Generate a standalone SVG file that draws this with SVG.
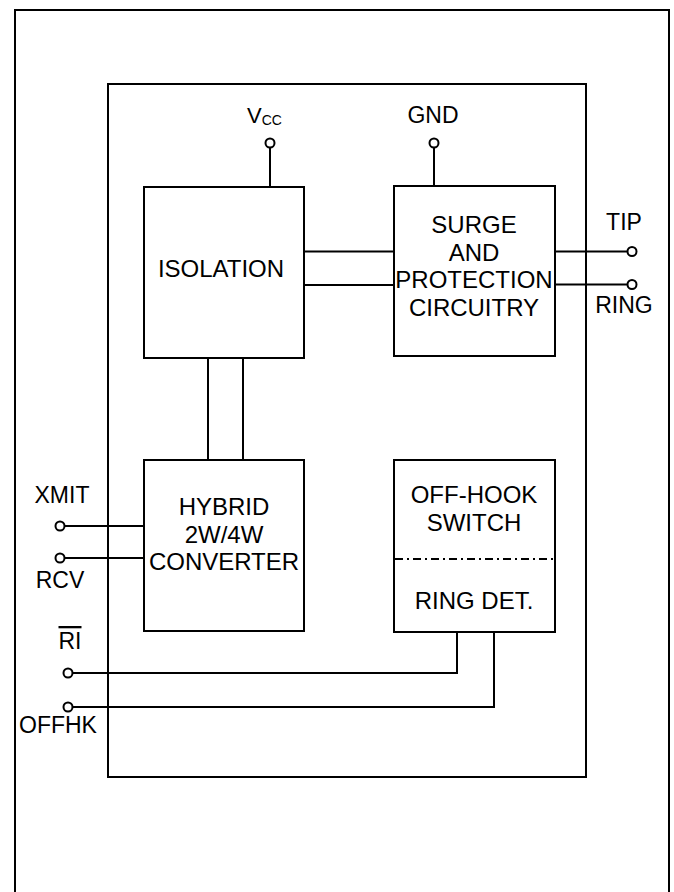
<svg xmlns="http://www.w3.org/2000/svg" width="674" height="892" viewBox="0 0 674 892">
<style>
.box{fill:#fff;stroke:#000;stroke-width:2}
.ln{fill:none;stroke:#000;stroke-width:2}
.pin{fill:#fff;stroke:#000;stroke-width:2}
text{font-family:"Liberation Sans",Arial,sans-serif;fill:#000}
.bt{font-size:24px;text-anchor:middle}
.lb{font-size:23px;text-anchor:middle}
</style>
<rect width="674" height="892" fill="#fff"/>
<g id="frame">
<path class="ln" d="M15 900 V10 H669 V900"/>
<rect class="box" x="108" y="84" width="478" height="693"/>
</g>
<g id="connectors">
<path class="ln" d="M270 147.5 V187"/>
<path class="ln" d="M434 147.5 V186"/>
<path class="ln" d="M304 251.5 H394 M304 285 H394"/>
<path class="ln" d="M555 251.5 H627.5 M555 284.5 H627.5"/>
<path class="ln" d="M208 358 V460 M243 358 V460"/>
<path class="ln" d="M64.5 526 H144 M64.5 558 H144"/>
<path class="ln" d="M72.5 673 H457 V632 M72.5 707 H494 V632"/>
</g>
<g id="isolation">
<rect class="box" x="144" y="187" width="160" height="171"/>
<text class="bt" x="221" y="277">ISOLATION</text>
</g>
<g id="surge">
<rect class="box" x="394" y="186" width="161" height="170"/>
<text class="bt" x="474" y="233">SURGE</text>
<text class="bt" x="474" y="261">AND</text>
<text class="bt" x="474" y="288">PROTECTION</text>
<text class="bt" x="474" y="316">CIRCUITRY</text>
</g>
<g id="hybrid">
<rect class="box" x="144" y="460" width="160" height="171"/>
<text class="bt" x="224" y="515">HYBRID</text>
<text class="bt" x="224" y="543">2W/4W</text>
<text class="bt" x="224" y="570">CONVERTER</text>
</g>
<g id="offhook">
<rect class="box" x="394" y="460" width="161" height="172"/>
<path class="ln" d="M395 559 H554" stroke-dasharray="8 4 2 4"/>
<text class="bt" x="474" y="503">OFF-HOOK</text>
<text class="bt" x="474" y="531">SWITCH</text>
<text class="bt" x="474" y="609">RING DET.</text>
</g>
<g id="vcc">
<circle class="pin" cx="270" cy="143" r="4.5"/>
<text x="247" y="123" font-size="22px">V<tspan font-size="14px" dy="2">CC</tspan></text>
</g>
<g id="gnd">
<circle class="pin" cx="434" cy="143" r="4.5"/>
<text class="lb" x="433" y="123">GND</text>
</g>
<g id="tip">
<circle class="pin" cx="632" cy="251.5" r="4.5"/>
<text class="lb" x="624" y="230">TIP</text>
</g>
<g id="ring">
<circle class="pin" cx="632" cy="284.5" r="4.5"/>
<text class="lb" x="624" y="313">RING</text>
</g>
<g id="xmit">
<circle class="pin" cx="60" cy="526" r="4.5"/>
<text class="lb" x="62" y="503">XMIT</text>
</g>
<g id="rcv">
<circle class="pin" cx="60" cy="558" r="4.5"/>
<text class="lb" x="60" y="588">RCV</text>
</g>
<g id="ri">
<circle class="pin" cx="68" cy="673" r="4.5"/>
<text class="lb" x="70" y="649" text-decoration="overline">RI</text>
</g>
<g id="offhk">
<circle class="pin" cx="68" cy="707" r="4.5"/>
<text class="lb" x="58" y="733">OFFHK</text>
</g>
</svg>
